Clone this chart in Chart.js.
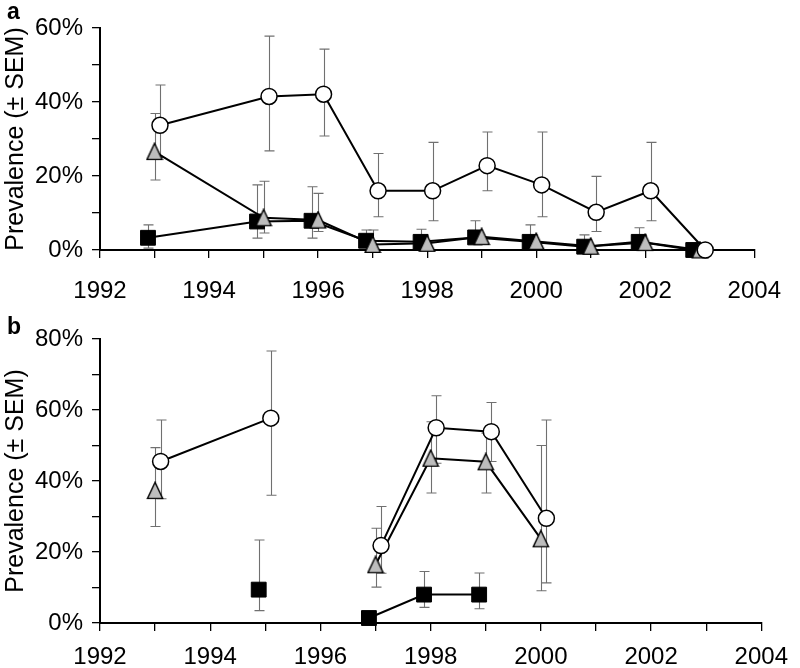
<!DOCTYPE html>
<html><head><meta charset="utf-8">
<script src="https://cdn.jsdelivr.net/npm/chart.js@4.4.0/dist/chart.umd.min.js"></script>
<style>
body{margin:0;background:#fff;width:800px;height:668px;overflow:hidden;position:relative;font-family:"Liberation Sans",Arial,Helvetica,sans-serif;}
canvas{position:absolute;left:0;}
#ca{top:0}
#cb{top:300px}
.lbl{position:absolute;font-weight:bold;font-size:23px;line-height:1;color:#000;}
</style></head><body>
<canvas id="ca" width="800" height="300"></canvas>
<canvas id="cb" width="800" height="368"></canvas>
<div class="lbl" style="left:7px;top:0px">a</div>
<div class="lbl" style="left:7px;top:315px">b</div>
<script>
// ---------- Panel a data ----------
const yearsA = [1993, 1995, 1996, 1997, 1998, 1999, 2000, 2001, 2002, 2003];
const circA    = [33.7, 41.5, 42.1, 16.0, 16.0, 22.8, 17.6, 10.2, 16.0, 0];
const circAHi  = [44.6, 57.8, 54.3, 26.1, 29.1, 31.9, 31.9, 19.9, 29.1, null];
const circALo  = [25.0, 26.8, 30.8, 9.0, 7.9, 16.0, 9.0, 5.0, 7.9, null];
const triA     = [26.6, 8.7, 8.1, 1.5, 1.8, 3.6, 2.3, 1.0, 2.0, 0];
const triAHi   = [36.9, 18.6, 15.3, 5.4, null, null, null, null, null, null];
const triALo   = [18.9, 4.6, 5.0, null, null, null, null, null, null, null];
const sqA      = [3.3, 7.7, 7.9, 2.5, 2.2, 3.4, 2.2, 0.9, 2.2, 0];
const sqAHi    = [6.8, 17.6, 17.1, 5.4, 5.6, 7.9, 6.8, 4.1, 6.0, null];
const sqALo    = [0.5, 3.2, 3.2, null, null, null, null, null, null, null];

// ---------- Panel b data ----------
const yearsB = [1993, 1995, 1996, 1997, 1998, 1999, 2000];
const circB    = [45.5, 57.7, null, 21.8, 55.0, 53.9, 29.5];
const circBHi  = [57.2, 76.6, null, 32.8, 64.0, 62.1, 57.2];
const circBLo  = [35.0, 36.0, null, 14.0, 45.0, 45.5, 11.3];
const triB     = [37.3, null, null, 16.4, 46.4, 45.4, 23.7];
const triBHi   = [49.4, null, null, 26.7, 56.7, 53.5, 50.0];
const triBLo   = [27.2, null, null, 10.1, 36.6, 36.6, 9.1];
const sqB      = [null, 9.4, null, 1.4, 8.0, 8.0, null];
const sqBHi    = [null, 23.4, null, null, 14.5, 14.1, null];
const sqBLo    = [null, 3.5, null, null, 4.4, 4.0, null];

const xTicks = {min: 1992, max: 2004, step: 1, labelEvery: 2};
const yTitle = 'Prevalence (± SEM)';

// marker horizontal jitter (style)
const OFF = {circ: 0.1, tri: 0.0, sq: -0.12};

Chart.defaults.font.family = '"Liberation Sans", Arial, Helvetica, sans-serif';
Chart.defaults.color = '#000';

function triImg(){
  const c = document.createElement('canvas');
  c.width = 18; c.height = 19;
  const g = c.getContext('2d');
  g.beginPath();
  g.moveTo(9, 1.2); g.lineTo(16.6, 17.4); g.lineTo(1.4, 17.4); g.closePath();
  g.fillStyle = '#bdbdbd'; g.fill();
  g.lineWidth = 1.4; g.strokeStyle = '#000'; g.lineJoin = 'miter'; g.stroke();
  return c;
}
const TRI = triImg();

function pts(years, vals, off){
  return years.map((y, i) => ({x: y + off, y: vals[i]}));
}

const errPlugin = {
  id: 'errbars',
  beforeDatasetsDraw(chart){
    const ctx = chart.ctx, ys = chart.scales.y;
    ctx.save();
    ctx.strokeStyle = '#707070';
    ctx.lineWidth = 1.1;
    chart.data.datasets.forEach((ds, di) => {
      const meta = chart.getDatasetMeta(di);
      meta.data.forEach((el, i) => {
        if (ds.data[i].y == null) return;
        const hi = ds.errHi[i], lo = ds.errLo[i];
        const x = Math.round(el.x) + 0.5;
        const yc = el.y;
        const cap = 5;
        ctx.beginPath();
        if (hi != null) {
          const yh = ys.getPixelForValue(hi);
          ctx.moveTo(x, yc); ctx.lineTo(x, yh);
          ctx.moveTo(x - cap, yh); ctx.lineTo(x + cap, yh);
        }
        if (lo != null) {
          const yl = ys.getPixelForValue(lo);
          ctx.moveTo(x, yc); ctx.lineTo(x, yl);
          ctx.moveTo(x - cap, yl); ctx.lineTo(x + cap, yl);
        }
        ctx.stroke();
      });
    });
    ctx.restore();
  }
};

function makeChart(id, years, c, cH, cL, t, tH, tL, s, sH, sL, yMax, opts){
  const base = {showLine: true, borderColor: '#000', borderWidth: 2, spanGaps: false, clip: false, tension: 0};
  return new Chart(document.getElementById(id), {
    type: 'line',
    data: {
      datasets: [
        Object.assign({}, base, {data: pts(years, c, OFF.circ), errHi: cH, errLo: cL, order: 0,
          pointStyle: 'circle', pointRadius: 8, pointBackgroundColor: '#fff', pointBorderColor: '#000', pointBorderWidth: 1.5}),
        Object.assign({}, base, {data: pts(years, t, OFF.tri), errHi: tH, errLo: tL, order: 1,
          pointStyle: TRI, pointRadius: 9}),
        Object.assign({}, base, {data: pts(years, s, OFF.sq), errHi: sH, errLo: sL, order: 2,
          pointStyle: 'rect', pointRadius: 10.5, pointBackgroundColor: '#000', pointBorderColor: '#000', pointBorderWidth: 1})
      ]
    },
    options: {
      responsive: false, animation: false, events: [],
      layout: {padding: opts.padding},
      plugins: {legend: {display: false}, tooltip: {enabled: false}},
      scales: {
        x: {
          type: 'linear', min: xTicks.min, max: xTicks.max,
          ticks: {stepSize: xTicks.step, autoSkip: false, maxRotation: 0, padding: opts.xPad, color: '#000', font: {size: 24},
            callback: v => (v - xTicks.min) % xTicks.labelEvery === 0 ? String(v) : ''},
          grid: {drawOnChartArea: false, drawTicks: true, tickLength: 8, color: '#000', lineWidth: 1.3},
          border: {display: true, color: '#000', width: 2},
          afterFit: sc => { sc.height = opts.xH; }
        },
        y: {
          min: 0, max: yMax,
          ticks: {stepSize: 10, autoSkip: false, padding: 9, color: '#000', font: {size: 24},
            callback: v => v % 20 === 0 ? v + '%' : ''},
          grid: {drawOnChartArea: false, drawTicks: true, tickLength: 8, color: '#000', lineWidth: 1.3},
          border: {display: true, color: '#000', width: 2},
          title: {display: true, text: yTitle, color: '#000', font: {size: 25}, padding: {top: 1, bottom: 0}},
          afterFit: sc => { sc.width = 100; }
        }
      }
    },
    plugins: [errPlugin]
  });
}

makeChart('ca', yearsA, circA, circAHi, circALo, triA, triAHi, triALo, sqA, sqAHi, sqALo, 60,
  {padding: {top: 28, right: 34, left: 0, bottom: 0}, xH: 50, xPad: 19});
makeChart('cb', yearsB, circB, circBHi, circBLo, triB, triBHi, triBLo, sqB, sqBHi, sqBLo, 80,
  {padding: {top: 39, right: 24, left: 0, bottom: 0}, xH: 45, xPad: 12});
</script>
</body></html>
